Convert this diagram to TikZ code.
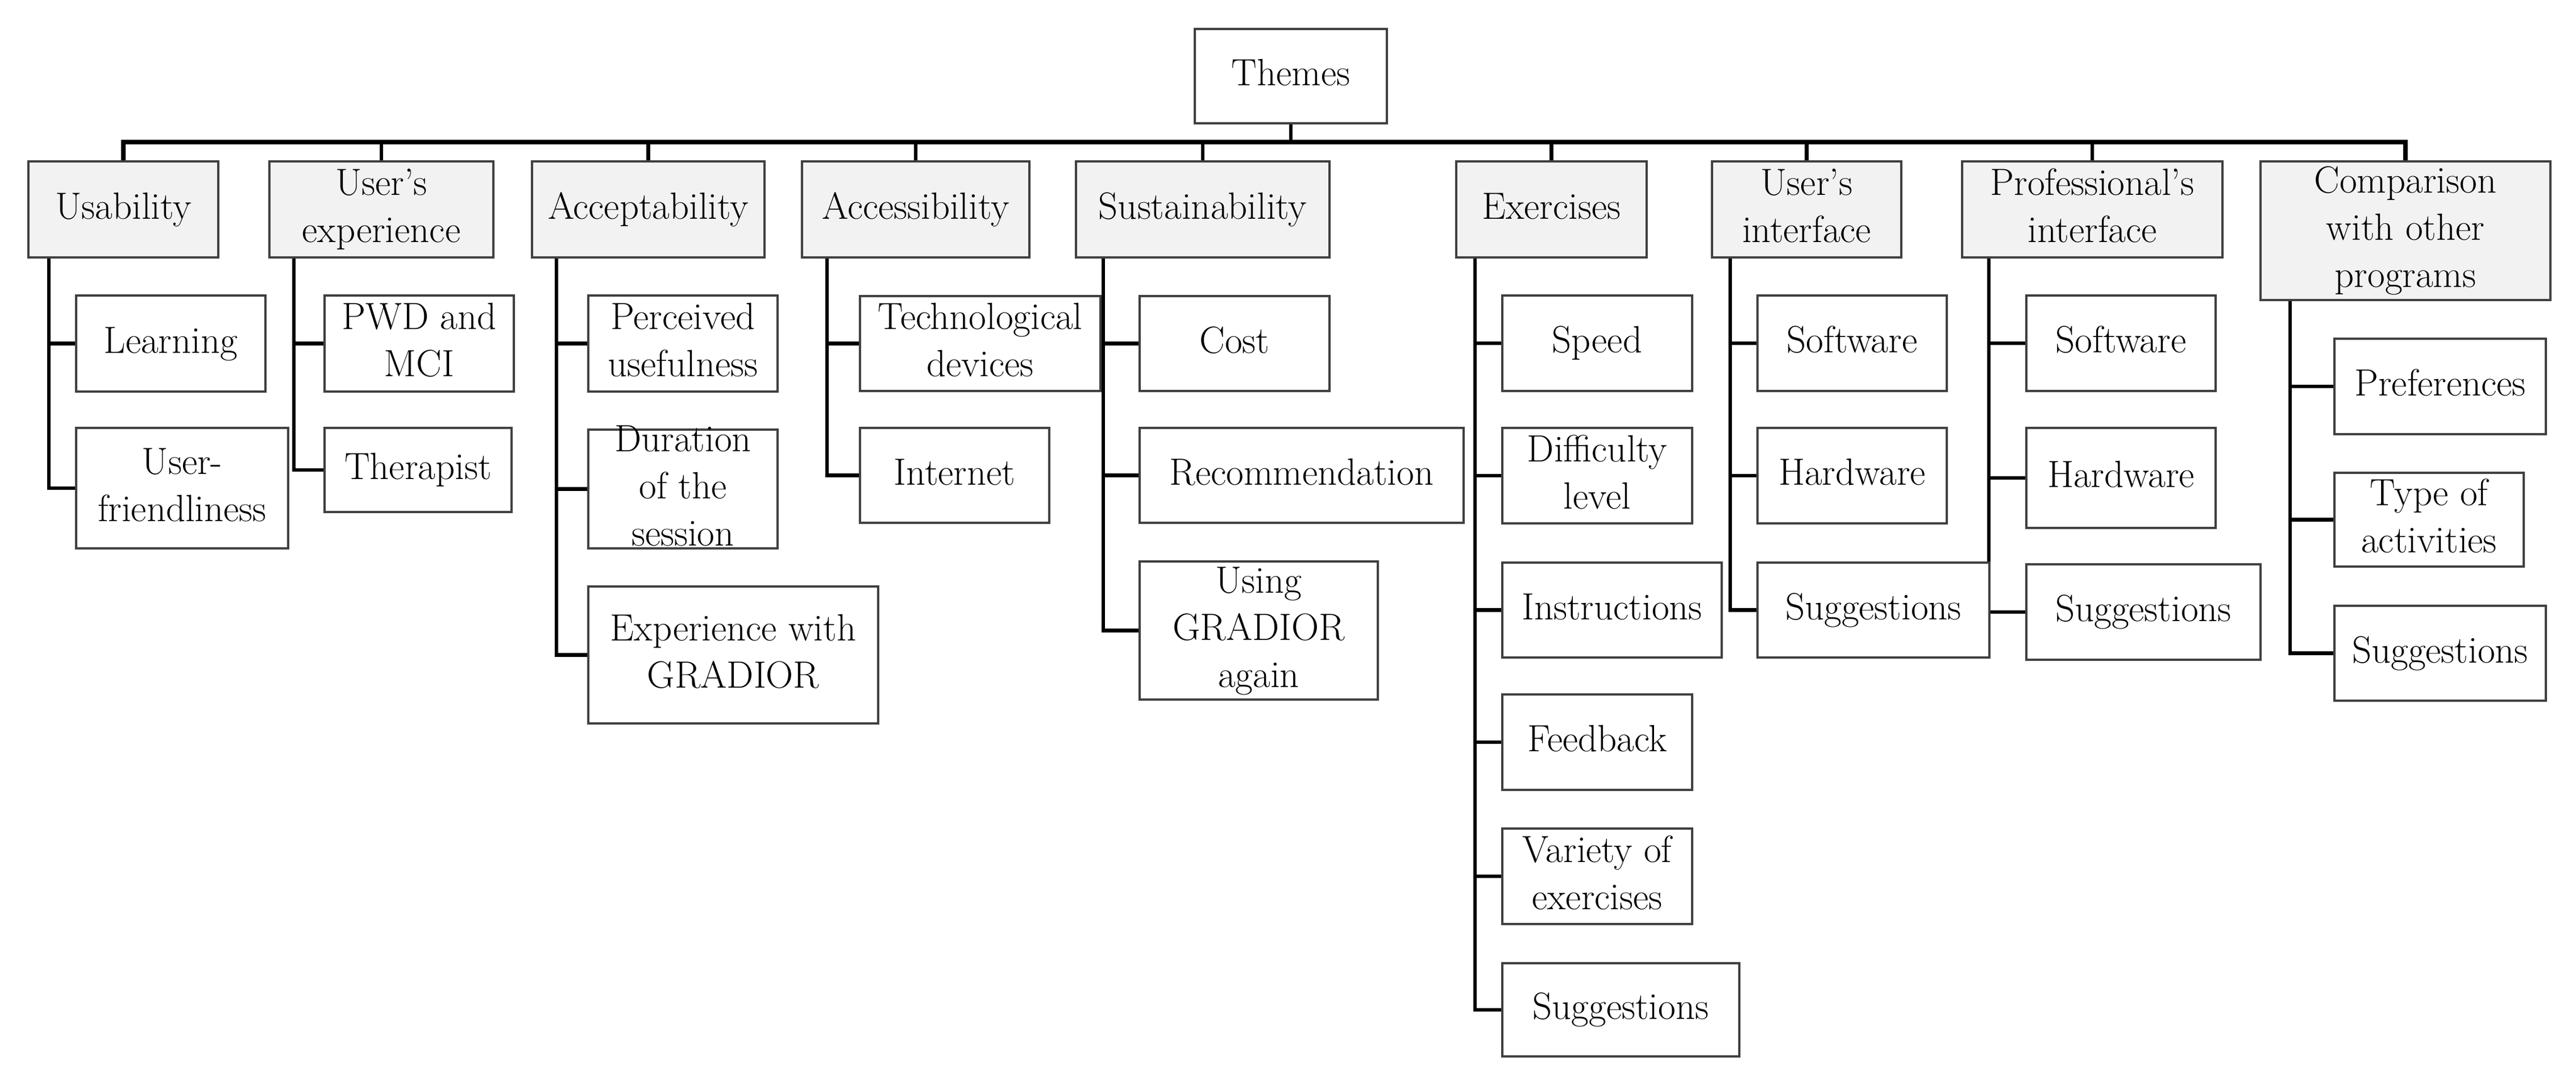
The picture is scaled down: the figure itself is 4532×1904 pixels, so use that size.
\documentclass[tikz,border=0pt]{standalone}
\usepackage{fontspec}
\usetikzlibrary{backgrounds}
\newcommand\placebox[7]{%
  \node[#1, minimum width={(#5-#3)*0.1mm}, minimum height={(#6-#4)*0.1mm}] (#2) at ({(#3+#5)/2},{(#4+#6)/2}) {};
  \node[txt] at (#2.center) {\strut #7\strut};}
\begin{document}
\begin{tikzpicture}[x=0.1mm,y=-0.1mm,
  box/.style={draw=black!75, line width=1.1pt, fill=white, inner sep=0pt, outer sep=0pt},
  head/.style={box, fill=black!5},
  txt/.style={align=center, inner sep=0pt, font=\fontsize{19}{23.6}\selectfont},
  conn/.style={line width=1.8pt, black},
  barline/.style={line width=2.2pt, black}]
\useasboundingbox (0,0) rectangle (4532,1904);
% root
\placebox{box}{themes}{2102}{51}{2440}{217}{Themes}
% level 1
\placebox{head}{usab}{50}{284}{384}{453}{Usability}
\placebox{head}{usex}{474}{284}{868}{453}{User's\\experience}
\placebox{head}{acce}{936}{284}{1345}{453}{Acceptability}
\placebox{head}{accs}{1411}{284}{1811}{453}{Accessibility}
\placebox{head}{sust}{1893}{284}{2339}{453}{Sustainability}
\placebox{head}{exer}{2562}{284}{2897}{453}{Exercises}
\placebox{head}{uint}{3012}{284}{3345}{453}{User's\\interface}
\placebox{head}{pint}{3452}{284}{3910}{453}{Professional's\\interface}
\placebox{head}{comp}{3977}{284}{4487}{528}{Comparison\\with other\\programs}
% usability
\placebox{box}{learn}{134}{520}{467}{689}{Learning}
\placebox{box}{ufri}{134}{753}{507}{965}{User-\\friendliness}
% user's experience
\placebox{box}{pwd}{571}{520}{904}{689}{PWD and\\MCI}
\placebox{box}{ther}{571}{753}{900}{901}{Therapist}
% acceptability
\placebox{box}{perc}{1035}{520}{1368}{689}{Perceived\\usefulness}
\placebox{box}{dura}{1035}{756}{1368}{965}{Duration\\of the\\session}
\placebox{box}{expe}{1035}{1032}{1545}{1273}{Experience with\\GRADIOR}
% accessibility
\placebox{box}{tech}{1513}{521}{1936}{688}{Technological\\devices}
\placebox{box}{inte}{1513}{753}{1846}{920}{Internet}
% sustainability
\placebox{box}{cost}{2005}{521}{2339}{688}{Cost}
\placebox{box}{reco}{2005}{753}{2575}{920}{Recommendation}
\placebox{box}{usin}{2005}{988}{2424}{1231}{Using\\GRADIOR\\again}
% exercises
\placebox{box}{spee}{2643}{520}{2977}{688}{Speed}
\placebox{box}{diff}{2643}{753}{2977}{921}{Difficulty\\level}
\placebox{box}{inst}{2643}{990}{3029}{1157}{Instructions}
\placebox{box}{feed}{2643}{1222}{2977}{1390}{Feedback}
\placebox{box}{vari}{2643}{1458}{2977}{1626}{Variety of\\exercises}
\placebox{box}{esug}{2643}{1695}{3060}{1859}{Suggestions}
% user's interface
\placebox{box}{usof}{3092}{520}{3425}{688}{Software}
\placebox{box}{uhar}{3092}{753}{3425}{921}{Hardware}
\placebox{box}{usug}{3092}{990}{3500}{1157}{Suggestions}
% professional's interface
\placebox{box}{psof}{3565}{520}{3898}{688}{Software}
\placebox{box}{phar}{3565}{753}{3898}{929}{Hardware}
\placebox{box}{psug}{3565}{993}{3977}{1161}{Suggestions}
% comparison
\placebox{box}{pref}{4107}{596}{4479}{764}{Preferences}
\placebox{box}{type}{4107}{832}{4440}{997}{Type of\\activities}
\placebox{box}{csug}{4107}{1066}{4479}{1233}{Suggestions}
% connectors
\begin{scope}[on background layer]
\coordinate (barY) at (0,250);
\draw[barline] (usab.north) |- (barY -| comp.north) -- (comp.north);
\foreach \n in {usex,acce,accs,sust,exer,uint,pint}
  \draw[conn] (\n.north) -- (\n.north |- barY);
\draw[conn] (themes.south) -- (themes.south |- barY);
\coordinate (usab-v) at (86,453);
\coordinate (usex-v) at (517,453);
\coordinate (acce-v) at (979,453);
\coordinate (accs-v) at (1455,453);
\coordinate (sust-v) at (1941,453);
\coordinate (exer-v) at (2595,453);
\coordinate (uint-v) at (3044,453);
\coordinate (pint-v) at (3499,453);
\coordinate (comp-v) at (4029,528);
\foreach \c in {learn,ufri} \draw[conn] (usab-v) |- (\c.west);
\foreach \c in {pwd,ther} \draw[conn] (usex-v) |- (\c.west);
\foreach \c in {perc,dura,expe} \draw[conn] (acce-v) |- (\c.west);
\foreach \c in {tech,inte} \draw[conn] (accs-v) |- (\c.west);
\foreach \c in {cost,reco,usin} \draw[conn] (sust-v) |- (\c.west);
\foreach \c in {spee,diff,inst,feed,vari,esug} \draw[conn] (exer-v) |- (\c.west);
\foreach \c in {usof,uhar,usug} \draw[conn] (uint-v) |- (\c.west);
\foreach \c in {psof,phar} \draw[conn] (pint-v) |- (\c.west);
\draw[conn] (pint-v) -- (pint-v |- usug.north);
\draw[conn] (usug.east |- psug.west) -- (psug.west);
\foreach \c in {pref,type,csug} \draw[conn] (comp-v) |- (\c.west);
\end{scope}
\end{tikzpicture}
\end{document}
